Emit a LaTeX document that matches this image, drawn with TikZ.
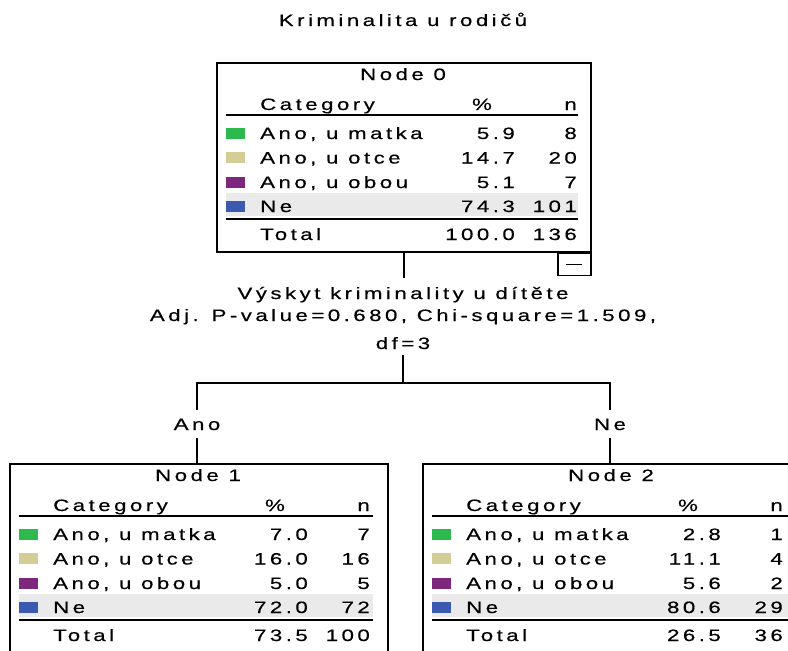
\documentclass[tikz,border=0pt]{standalone}
\usepackage{fontspec}
\setmainfont{Liberation Sans}[FakeStretch=1.35,LetterSpace=21,FakeBold=0.4]
\definecolor{cgreen}{RGB}{45,185,75}
\definecolor{ctan}{RGB}{212,205,150}
\definecolor{cpurple}{RGB}{125,40,125}
\definecolor{cblue}{RGB}{60,90,175}
\definecolor{cshade}{RGB}{234,234,234}
\newcommand\tfont{\fontsize{16.5}{19}\selectfont}
\tikzset{
  box/.style={draw, line width=1.6pt, inner sep=0, anchor=north west, minimum width=#1, minimum height=189pt},
  wire/.style={line width=1.6pt},
  rulel/.style={line width=1.6pt},
  txt/.style={inner sep=0, font=\tfont},
  lt/.style={txt, anchor=base west},
  rt/.style={txt, anchor=base east},
  ct/.style={txt, anchor=base},
}
\newcommand\catrow[6]{%
  \fill[#3] (10,#2-5.5) rectangle (29,#2+5.5);
  \node[lt] (#1l) at (44,#2+6) {#4};
  \node[rt] (#1p) at (299,#2+6) {#5};
  \node[rt] (#1n) at (361,#2+6) {#6};}
\newcommand\tablebody[9]{% #1 prefix, #2 title, #3 center, #4 rule end, #5-#8 rows (pct/n), #9 total
  \node[ct] (#1t) at (#3,18) {#2};
  \node[lt] (#1c) at (44,48) {Category};
  \node[ct] (#1pc) at (266,48) {\%};
  \node[rt] (#1nc) at (361,48) {n};
  \draw[rulel] (10,53) -- (#4,53);
  \fill[cshade] (10,131) rectangle (#4,154);
  \catrow{#1a}{71}{cgreen}{Ano, u matka}#5
  \catrow{#1b}{95.5}{ctan}{Ano, u otce}#6
  \catrow{#1d}{120}{cpurple}{Ano, u obou}#7
  \catrow{#1e}{144}{cblue}{Ne}#8
  \draw[rulel] (10,157) -- (#4,157);
  \node[lt] (#1tl) at (44,178) {Total};
  #9}
\begin{document}
\begin{tikzpicture}[x=1pt,y=-1pt]
\useasboundingbox (0,0) rectangle (788,651);
\node[ct] (title) at (403,26) {Kriminalita u rodičů};

% Node 0
\node[box=374pt] (n0) at (216,62) {};
\begin{scope}[shift={(216,62)}]
  \tablebody{n0}{Node 0}{187}{362}{{5.9}{8}}{{14.7}{20}}{{5.1}{7}}{{74.3}{101}}%
    {\node[rt] (n0tp) at (299,178) {100.0}; \node[rt] (n0tn) at (361,178) {136};}
\end{scope}
\node[draw, line width=1.6pt, inner sep=0, minimum width=33pt, minimum height=22pt, anchor=north east] (minus) at (n0.south east) {};
\draw[line width=1.4pt] ([xshift=8pt]minus.center) -- ([xshift=-8pt]minus.center);

% Node 1
\node[box=378pt] (n1) at (9,463) {};
\begin{scope}[shift={(9,463)}]
  \tablebody{n1}{Node 1}{189}{364}{{7.0}{7}}{{16.0}{16}}{{5.0}{5}}{{72.0}{72}}%
    {\node[rt] (n1tp) at (299,178) {73.5}; \node[rt] (n1tn) at (361,178) {100};}
\end{scope}

% Node 2
\node[box=378pt] (n2) at (422,463) {};
\begin{scope}[shift={(422,463)}]
  \tablebody{n2}{Node 2}{189}{378}{{2.8}{1}}{{11.1}{4}}{{5.6}{2}}{{80.6}{29}}%
    {\node[rt] (n2tp) at (299,178) {26.5}; \node[rt] (n2tn) at (361,178) {36};}
\end{scope}

% split labels
\node[ct] (sp1) at (403,299) {Výskyt kriminality u dítěte};
\node[ct] (sp2) at (403,321) {Adj. P-value=0.680, Chi-square=1.509,};
\node[ct] (sp3) at (403,349) {df=3};
\node[ct] (ano) at (197,430) {Ano};
\node[ct] (ne) at (610,430) {Ne};

\coordinate (s0) at (403,278);
\coordinate (s1) at (403,355);
\coordinate (j) at (403,383);
\coordinate (jl) at (197,383);
\coordinate (jr) at (610,383);
\coordinate (al) at (197,410);
\coordinate (ar) at (610,410);
\coordinate (bl) at (197,438);
\coordinate (br) at (610,438);

\draw[wire] (n0.south) -- (n0.south |- s0);
\draw[wire] (s1) -- (j);
\draw[wire] (al) -- (jl) -- (jr) -- (ar);
\draw[wire] (bl) -- (bl |- n1.north);
\draw[wire] (br) -- (br |- n2.north);
\end{tikzpicture}
\end{document}
